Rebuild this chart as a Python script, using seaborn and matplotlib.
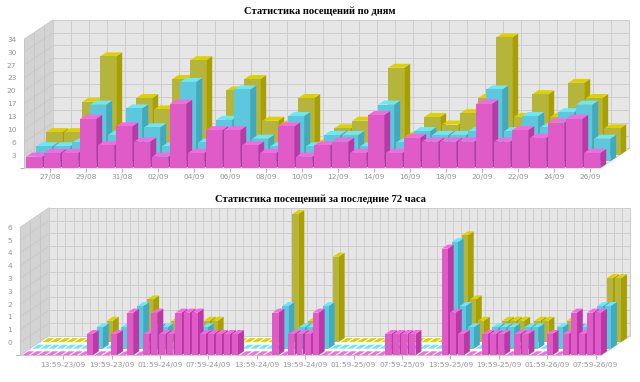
import matplotlib
matplotlib.use("Agg")
import numpy as np
import pandas as pd
import seaborn as sns
import matplotlib.pyplot as plt
from matplotlib.patches import Polygon

sns.set_style("white")

# ---------- data ----------
TITLE_DAYS = "Статистика посещений по дням"
TITLE_72H = "Статистика посещений за последние 72 часа"
DAY_LABELS = ["27/08", "29/08", "31/08", "02/09", "04/09", "06/09", "08/09", "10/09",
              "12/09", "14/09", "16/09", "18/09", "20/09", "22/09", "24/09", "26/09"]
DAY_YTICKS = ["3", "6", "10", "13", "17", "20", "23", "27", "30", "34"]
HOUR_LABELS = ["13:59-23/09", "19:59-23/09", "01:59-24/09", "07:59-24/09", "13:59-24/09",
               "19:59-24/09", "01:59-25/09", "07:59-25/09", "13:59-25/09", "19:59-25/09",
               "01:59-26/09", "07:59-26/09"]
HOUR_YTICKS = ["0", "1", "1", "2", "3", "3", "4", "4", "5", "6"]

day_pink = [3, 4, 4, 13, 6, 11, 7, 3, 17, 4, 10, 10, 6, 4, 11, 3,
            6, 7, 4, 14, 4, 8, 7, 7, 7, 17, 7, 10, 8, 12, 13, 4]
day_cyan = [4, 4, 5, 15, 7, 14, 9, 4, 21, 5, 11, 19, 6, 4, 12, 4,
            7, 7, 4, 15, 5, 8, 7, 7, 8, 19, 8, 12, 9, 13, 15, 6]
day_olive = [6, 6, 14, 26, 3, 15, 12, 20, 25, 4, 17, 20, 9, 8, 15, 3,
             7, 9, 5, 23, 5, 10, 8, 11, 15, 31, 10, 16, 10, 19, 15, 7]

hour_pink = [0, 0, 0, 0, 0, 0, 0, 0, 1, 0, 0, 1, 0, 2, 0, 1, 2, 1, 1, 2, 2, 2, 1, 1,
             1, 1, 1, 0, 0, 0, 0, 2, 0, 1, 1, 1, 2, 0, 0, 0, 0, 0, 0, 0, 0, 1, 1, 1,
             1, 0, 0, 0, 5, 2, 1, 0, 0, 1, 1, 1, 0, 1, 1, 0, 0, 1, 0, 1, 2, 1, 2, 2]
hour_cyan = [0, 0, 0, 0, 0, 0, 0, 0, 1, 0, 0, 1, 0, 2, 0, 1, 1, 0, 0, 0, 0, 1, 0, 0,
             0, 0, 0, 0, 0, 0, 0, 2, 0, 1, 1, 1, 2, 0, 0, 0, 0, 0, 0, 0, 0, 0, 0, 0,
             0, 0, 0, 0, 5, 2, 1, 0, 0, 1, 1, 1, 0, 1, 1, 0, 0, 1, 0, 1, 1, 1, 2, 2]
hour_olive = [0, 0, 0, 0, 0, 0, 0, 0, 1, 0, 0, 0, 0, 2, 0, 0, 1, 0, 0, 0, 1, 1, 0, 0,
              0, 0, 0, 0, 0, 0, 0, 6, 0, 1, 0, 0, 4, 0, 0, 0, 0, 0, 0, 0, 0, 0, 0, 0,
              0, 0, 0, 0, 5, 2, 1, 0, 0, 1, 1, 1, 0, 1, 1, 0, 0, 1, 0, 0, 0, 0, 3, 3]

# ---------- styling ----------
PINK = ("#DE5BC8", "#F56ADF", "#BD38A7")
CYAN = ("#5BC8DE", "#6DE6F8", "#3FAAC2")
OLIVE = ("#B5B53C", "#DDD200", "#A8A000")
WALL_BACK = "#E6E6E6"
WALL_LEFT = "#D3D3D3"
GRID = "#CDCDCD"
TEXT = "#949494"
W, H = 640, 382


def draw_chart(left, right, floor, top, ymax, nbars, yt_step, series, ylabels,
               xlabels, first_tick, tick_every, barw, title, title_y, title_x):
    ax = plt.gcf().add_axes([left / W, 1 - floor / H, (right - left) / W, (floor - top) / H])
    slot = (right - left) / nbars
    unit = (floor - top) / ymax
    DX, DY = 29.3 / slot, 19.6 / unit          # full floor depth
    ROWX, ROWY = 10.0 / slot, 6.6 / unit       # shift per series row
    BX, BY = 6.0 / slot, 4.0 / unit            # depth of one bar
    ax.set_xlim(-0.5, nbars - 0.5)
    ax.set_ylim(0, ymax)
    x0, x1 = -0.5, nbars - 0.5

    def poly(pts, fc, ec="none", z=1, lw=0.8):
        ax.add_patch(Polygon(pts, closed=True, fc=fc, ec=ec, lw=lw, zorder=z, clip_on=False))

    def line(xs, ys, z=2, c=GRID, lw=0.72):
        ax.plot(xs, ys, color=c, lw=lw, zorder=z, clip_on=False, solid_capstyle="butt")

    # walls
    poly([(x0 + DX, DY), (x1 + DX, DY), (x1 + DX, ymax + DY), (x0 + DX, ymax + DY)], WALL_BACK)
    poly([(x0, 0), (x0 + DX, DY), (x0 + DX, ymax + DY), (x0, ymax)], WALL_LEFT)
    yticks = [yt_step * (k + 1) for k in range(len(ylabels))]
    for v in [0] + yticks:
        line([x0 + DX, x1 + DX], [v + DY, v + DY])
        line([x0, x0 + DX], [v, v + DY], c="#C8C8C8", lw=0.6)
    for i in range(nbars + 1):
        xv = x0 + DX + i
        line([xv, xv], [DY, ymax + DY])
    for f in (0, 1 / 3, 2 / 3):
        line([x0 + DX * f] * 2, [DY * f, ymax + DY * f], c="#C4C4C4", lw=0.6)
    # floor outline
    line([x0, x1, x1 + DX], [0, 0, DY], c="#C4C4C4")

    # bars, back row first
    for row in (2, 1, 0):
        vals = series[row]
        front, roof, side = (PINK, CYAN, OLIVE)[row]
        df = pd.DataFrame({"slot": np.arange(nbars), "value": vals})
        n_before = len(ax.patches)
        sns.barplot(data=df, x="slot", y="value", native_scale=True, color=front, saturation=1,
                    width=barw / slot, errorbar=None, linewidth=0, ax=ax)
        bars = ax.patches[n_before:]
        sx, sy = row * ROWX + 0.12 * ROWX, row * ROWY
        base_z = 10 + (2 - row) * 1000
        for i, b in enumerate(bars):
            b.set_x(b.get_x() + sx)
            b.set_y(b.get_y() + sy)
            b.set_zorder(base_z + 3 * i + 2)
            b.set_clip_on(False)
            xa, xb = b.get_x(), b.get_x() + b.get_width()
            ya, yb = b.get_y(), b.get_y() + b.get_height()
            if yb > ya:
                poly([(xb, ya), (xb + BX, ya + BY), (xb + BX, yb + BY), (xb, yb)], side, z=base_z + 3 * i + 1)
            poly([(xa, yb), (xb, yb), (xb + BX, yb + BY), (xa + BX, yb + BY)], roof, z=base_z + 3 * i + 1)

    # axes text
    ax.set_xlabel("")
    ax.set_ylabel("")
    for s in ax.spines.values():
        s.set_visible(False)
    ax.set_yticks([0] + yticks, [""] + ylabels)
    tick_shift = -1.2 / slot
    ax.set_xticks([first_tick + tick_shift + tick_every * k for k in range(len(xlabels))], xlabels)
    ax.tick_params(axis="both", length=3, width=0.7, color="#B0B0B0", labelcolor=TEXT,
                   labelsize=5.3, pad=2.5, left=True, bottom=True)
    ax.tick_params(axis="x", pad=1.5)
    for t in ax.yaxis.get_major_ticks()[1:]:
        t.tick1line.set_visible(False)
    for lab in ax.get_xticklabels() + ax.get_yticklabels():
        lab.set_family("DejaVu Sans")
    plt.gcf().text(title_x / W, 1 - title_y / H, title, ha="center", va="center",
                   family="Liberation Serif", weight="bold", size=7.6, color="black")


fig = plt.figure(figsize=(W / 100, H / 100), dpi=100, facecolor="white")

draw_chart(24, 600, 168, 39.3, 34, 32, 3.4, (day_pink, day_cyan, day_olive), DAY_YTICKS,
           DAY_LABELS, 1, 2, 16, TITLE_DAYS, 11, 320)
draw_chart(20, 600.8, 355.3, 227.3, 6, 72, 0.6, (hour_pink, hour_cyan, hour_olive), HOUR_YTICKS,
           HOUR_LABELS, 5, 6, 6, TITLE_72H, 199.5, 320)

fig.savefig("out.png", dpi=100, facecolor="white")
